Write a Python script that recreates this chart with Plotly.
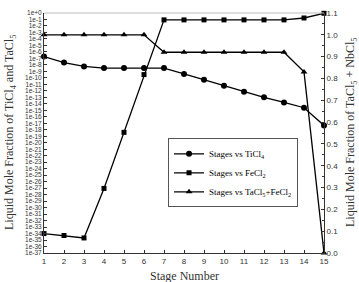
import plotly.graph_objects as go

stages = list(range(1, 16))
ticl4 = [1.9e-7, 2.3e-8, 5.9e-9, 3.2e-9, 3.2e-9, 3.2e-9, 3.2e-9, 4.0e-10,
         4.9e-11, 6.0e-12, 7.4e-13, 1.0e-13, 1.6e-14, 2.5e-15, 4.7e-18]
fecl2 = [1.0e-34, 5.0e-35, 2.1e-35, 9.1e-28, 4.0e-19, 3.2e-10, 0.087, 0.087,
         0.087, 0.087, 0.087, 0.087, 0.087, 0.17, 0.9]
tacl5_fecl2 = [1.0, 1.0, 1.0, 1.0, 1.0, 1.0, 0.92, 0.92, 0.92, 0.92, 0.92,
               0.92, 0.92, 0.83, 0.0]

log_exponents = list(range(0, 38))
log_tickvals = [10.0 ** (-k) for k in log_exponents]
log_ticktext = ["1e+0"] + ["1e-%d" % k for k in log_exponents[1:]]
right_tickvals = [i / 10 for i in range(12)]
right_ticktext = ["%.1f" % v for v in right_tickvals]

names = ["Stages vs TiCl<sub>4</sub>", "Stages vs FeCl<sub>2</sub>",
         "Stages vs TaCl<sub>5</sub>+FeCl<sub>2</sub>"]

serif = "Liberation Serif, Times New Roman, serif"
sans = "Liberation Sans, Arial, sans-serif"
narrow = "Liberation Sans Narrow, Liberation Sans, Arial, sans-serif"

fig = go.Figure()
fig.add_trace(go.Scatter(x=stages, y=ticl4, name=names[0], mode="lines+markers",
                         line=dict(color="black", width=1.3),
                         marker=dict(symbol="circle", size=6, color="black"),
                         cliponaxis=False))
fig.add_trace(go.Scatter(x=stages, y=fecl2, name=names[1], mode="lines+markers",
                         line=dict(color="black", width=1.3),
                         marker=dict(symbol="square", size=5, color="black"),
                         cliponaxis=False))
fig.add_trace(go.Scatter(x=stages, y=tacl5_fecl2, name=names[2], mode="lines+markers",
                         yaxis="y2",
                         line=dict(color="black", width=1.3),
                         marker=dict(symbol="triangle-up", size=6, color="black"),
                         cliponaxis=False))

fig.update_layout(
    width=359, height=282,
    margin=dict(l=44, r=35, t=9, b=29),
    paper_bgcolor="white", plot_bgcolor="white",
    showlegend=True,
    legend=dict(x=0.443, y=0.478, xanchor="left", yanchor="top",
                bordercolor="#555", borderwidth=1, bgcolor="white",
                font=dict(family=serif, size=9, color="black"),
                itemwidth=30, tracegroupgap=0),
    xaxis=dict(range=[1, 15], tickvals=stages, ticktext=[str(s) for s in stages],
               ticks="inside", ticklen=3, tickcolor="#333",
               showline=True, linecolor="#333", linewidth=1,
               showgrid=False, zeroline=False,
               tickfont=dict(family=sans, size=8, color="#333")),
    yaxis=dict(type="log", range=[-37, 0], tickvals=log_tickvals,
               ticktext=log_ticktext, ticks="inside", ticklen=3, tickcolor="#333",
               showline=True, linecolor="#333", linewidth=1,
               showgrid=False, zeroline=False,
               tickfont=dict(family=narrow, size=6.5, color="#333")),
    yaxis2=dict(overlaying="y", side="right", range=[0, 1.1],
                tickvals=right_tickvals, ticktext=right_ticktext,
                ticks="inside", ticklen=3, tickcolor="#333",
                minor=dict(ticks="inside", ticklen=2, dtick=0.05, tickcolor="#333"),
                showline=True, linecolor="#333", linewidth=1,
                showgrid=False, zeroline=False,
                tickfont=dict(family=sans, size=8, color="#333")),
    shapes=[dict(type="line", xref="paper", yref="paper", x0=0, x1=1, y0=1, y1=1,
                 line=dict(color="#bbb", width=1))],
    annotations=[
        dict(text="Stage Number", xref="paper", yref="paper", x=0.5, y=0,
             yshift=-23, yanchor="middle", showarrow=False,
             font=dict(family=serif, size=12, color="#333")),
        dict(text="Liquid Mole Fraction of TiCl<sub>4</sub> and TaCl<sub>5</sub>",
             xref="paper", yref="paper", x=0, xshift=-34, y=0.5, textangle=-90,
             xanchor="center", showarrow=False,
             font=dict(family=serif, size=12, color="#333")),
        dict(text="Liquid Mole Fraction of TaCl<sub>5</sub> + NbCl<sub>5</sub>",
             xref="paper", yref="paper", x=1, xshift=27, y=0.5, textangle=-90,
             xanchor="center", showarrow=False,
             font=dict(family=serif, size=12, color="#333")),
    ],
)

fig.write_html("out.html")
